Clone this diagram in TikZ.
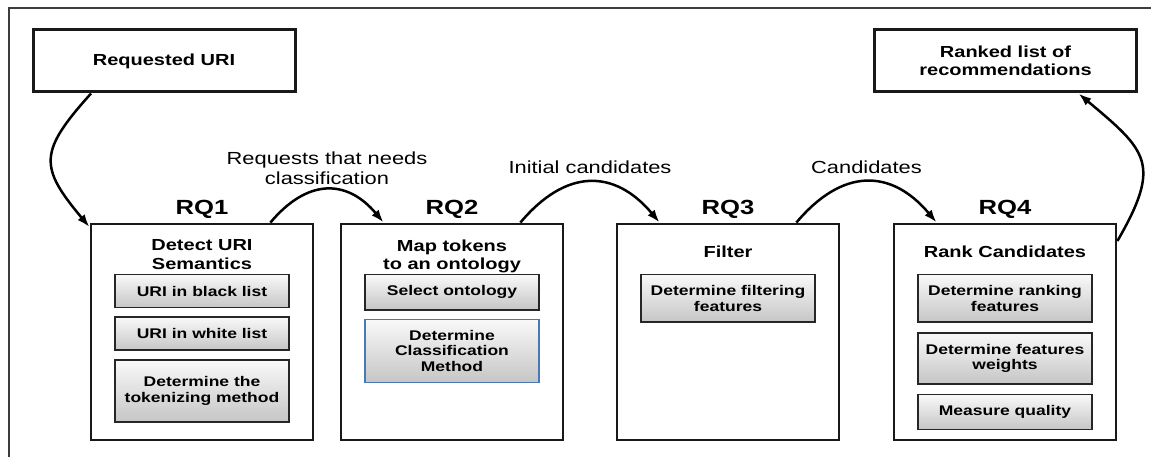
\documentclass[tikz,border=0pt]{standalone}
\usepackage{fontspec}
\setmainfont{Liberation Sans}[FakeStretch=1.25]
\usepackage{tikz}
\usetikzlibrary{arrows.meta}
\usetikzlibrary{positioning}
\definecolor{framecolor}{HTML}{3C3C3C}
\definecolor{bluecolor}{HTML}{4A78B5}

\tikzset{
  endbox/.style={draw=black!90, line width=3pt, minimum width=262pt, minimum height=62pt,
    align=center, font=\bfseries\fontsize{16}{18.5}\selectfont},
  stepbox/.style={draw=black!90, line width=2.8pt, minimum width=222pt, minimum height=216pt},
  boxtitle/.style={inner sep=0pt, align=center, font=\bfseries\fontsize{16}{18.5}\selectfont},
  rqlabel/.style={inner sep=0pt, font=\bfseries\fontsize{20.5}{24}\selectfont},
  taskbox/.style={draw=black!85, line width=1.8pt, top color=gray!5, bottom color=gray!45,
    minimum width=174pt, minimum height=33pt, inner ysep=11pt, align=center,
    font=\bfseries\fontsize{14}{15.5}\selectfont},
  flowlabel/.style={inner sep=0pt, align=center, font=\fontsize{17.5}{19.5}\selectfont},
  flow/.style={line width=2.5pt, -{Latex[length=13pt,width=9pt]}}
}

\begin{document}
\begin{tikzpicture}[x=1pt,y=1pt]
\useasboundingbox (0,0) rectangle (1151,-457);
%% frame
\draw[framecolor, line width=1.5pt] (9,-460) -- (9,-8) -- (1160,-8);

%% input and output
\node[endbox] (uri) at (164,-61) {Requested URI};
\node[endbox] (ranked) at (1005.5,-61) {Ranked list of\\recommendations};

%% the four steps
\node[stepbox] (rq1) at (202,-332) {};
\node[stepbox] (rq2) at (452,-332) {};
\node[stepbox] (rq3) at (728,-332) {};
\node[stepbox] (rq4) at (1005,-332) {};

\node[rqlabel, above=4pt of rq1] (rq1lbl) {RQ1};
\node[rqlabel, above=4pt of rq2] (rq2lbl) {RQ2};
\node[rqlabel, above=4pt of rq3] (rq3lbl) {RQ3};
\node[rqlabel, above=4pt of rq4] (rq4lbl) {RQ4};

%% RQ1
\node[boxtitle, below=17pt of rq1.north] (rq1title) {Detect URI\\Semantics};
\node[taskbox, below=51pt of rq1.north] (black) {URI in black list};
\node[taskbox, below=8pt of black] (white) {URI in white list};
\node[taskbox, below=8pt of white, minimum height=62pt] (token) {Determine the\\tokenizing method};

%% RQ2
\node[boxtitle, below=17pt of rq2.north] (rq2title) {Map tokens\\to an ontology};
\node[taskbox, below=51pt of rq2.north] (onto) {Select ontology};
\node[taskbox, below=8pt of onto, draw=bluecolor, line width=1.5pt] (classif) {Determine\\Classification\\Method};

%% RQ3
\node[boxtitle, below=23pt of rq3.north] (rq3title) {Filter};
\node[taskbox, below=51pt of rq3.north] (filtfeat) {Determine filtering\\features};

%% RQ4
\node[boxtitle, below=23pt of rq4.north] (rq4title) {Rank Candidates};
\node[taskbox, below=51pt of rq4.north] (rankfeat) {Determine ranking\\features};
\node[taskbox, below=9pt of rankfeat] (weights) {Determine features\\weights};
\node[taskbox, below=9pt of weights] (quality) {Measure quality};

%% flow
\draw[flow] (uri.204) to[out=228,in=130,looseness=1.5] (rq1.137);
\draw[flow] (rq1.58) to[out=50,in=130,looseness=1.3]
  node[flowlabel, above=4pt] {Requests that needs\\classification} (rq2.122);
\draw[flow] (rq2.58) to[out=50,in=130,looseness=1.3]
  node[flowlabel, above=7pt] {Initial candidates} (rq3.122);
\draw[flow] (rq3.58) to[out=50,in=130,looseness=1.3]
  node[flowlabel, above=7pt] {Candidates} (rq4.122);
\draw[flow] (rq4.39) to[out=60,in=-40,looseness=1.5] (ranked.-24);
\end{tikzpicture}
\end{document}
